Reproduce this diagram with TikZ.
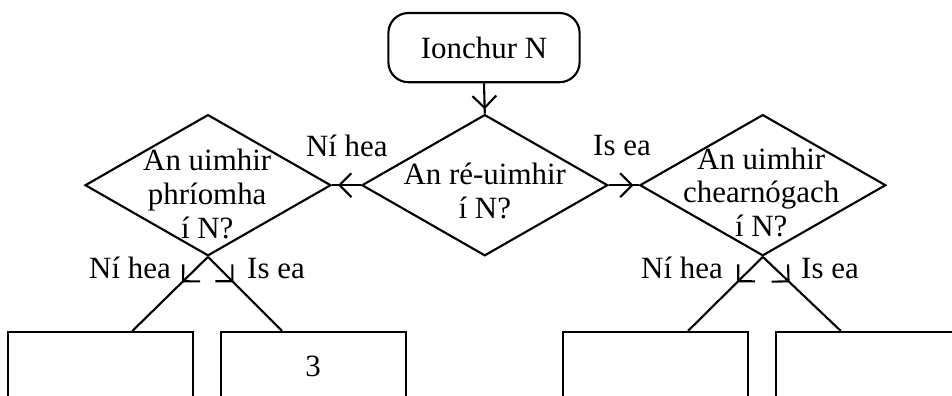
\documentclass[tikz,border=0pt]{standalone}
\usepackage{fontspec}
\setmainfont{Liberation Serif}
\usetikzlibrary{shapes.geometric,decorations.markings}
\begin{document}
\begin{tikzpicture}[line width=1.5pt,
  every node/.style={font=\fontsize{22}{24.1}\selectfont},
  decision/.style={draw,diamond,minimum width=6.15cm,minimum height=3.53cm,inner sep=0pt},
  terminal/.style={draw,rounded corners=0.5cm,minimum width=4.78cm,minimum height=1.73cm},
  procbox/.style={draw,minimum width=4.62cm,minimum height=1.7cm},
  midarrow/.style={postaction={decorate},decoration={markings,mark=at position #1 with {\draw[line width=1.5pt] (-8.5pt,8.5pt) -- (0,0) -- (-8.5pt,-8.5pt);}}}]
      \useasboundingbox (0,0) rectangle (23.8,-9.9);
      \clip (0,0) rectangle (23.8,-9.9);
      \node[terminal] (start) at (12.1,-1.19) {Ionchur N};
      \node[decision] (real) at (12.12,-4.63) {};
      \node[decision] (prime) at (5.2,-4.63) {};
      \node[decision] (square) at (19.07,-4.63) {};
      \node[align=center,anchor=base] (realtxt) at (12.12,-5.47) {An ré-uimhir\\í N?};
      \node[align=center,anchor=base] (primetxt) at (5.18,-5.95) {An uimhir\\phríomha\\í N?};
      \node[align=center,anchor=base] (squaretxt) at (19.03,-5.92) {An uimhir\\chearnógach\\í N?};
      \node[procbox] (p1) at (2.51,-9.15) {};
      \node[procbox] (p2) at (7.83,-9.15) {3};
      \node[procbox] (s1) at (16.39,-9.15) {};
      \node[procbox] (s2) at (21.71,-9.15) {};
      \draw[midarrow=0.81] (start.south) -- (real.north);
      \draw[midarrow=0.74] (real.west) -- (prime.east);
      \draw[midarrow=0.78] (real.east) -- (square.west);
      \draw[midarrow=0.33] (prime.south) -- ([xshift=0.8cm]p1.north);
      \draw[midarrow=0.33] (prime.south) -- ([xshift=-0.78cm]p2.north);
      \draw[midarrow=0.33] (square.south) -- ([xshift=0.81cm]s1.north);
      \draw[midarrow=0.33] (square.south) -- ([xshift=-0.69cm]s2.north);
      \node[anchor=base] (nolbl) at (8.67,-3.9) {Ní hea};
      \node[anchor=base] (yeslbl) at (15.55,-3.88) {Is ea};
      \node[anchor=base] (primeno) at (3.25,-6.95) {Ní hea};
      \node[anchor=base] (primeyes) at (6.9,-6.95) {Is ea};
      \node[anchor=base] (squareno) at (17.05,-6.95) {Ní hea};
      \node[anchor=base] (squareyes) at (20.75,-6.95) {Is ea};
\end{tikzpicture}
\end{document}
